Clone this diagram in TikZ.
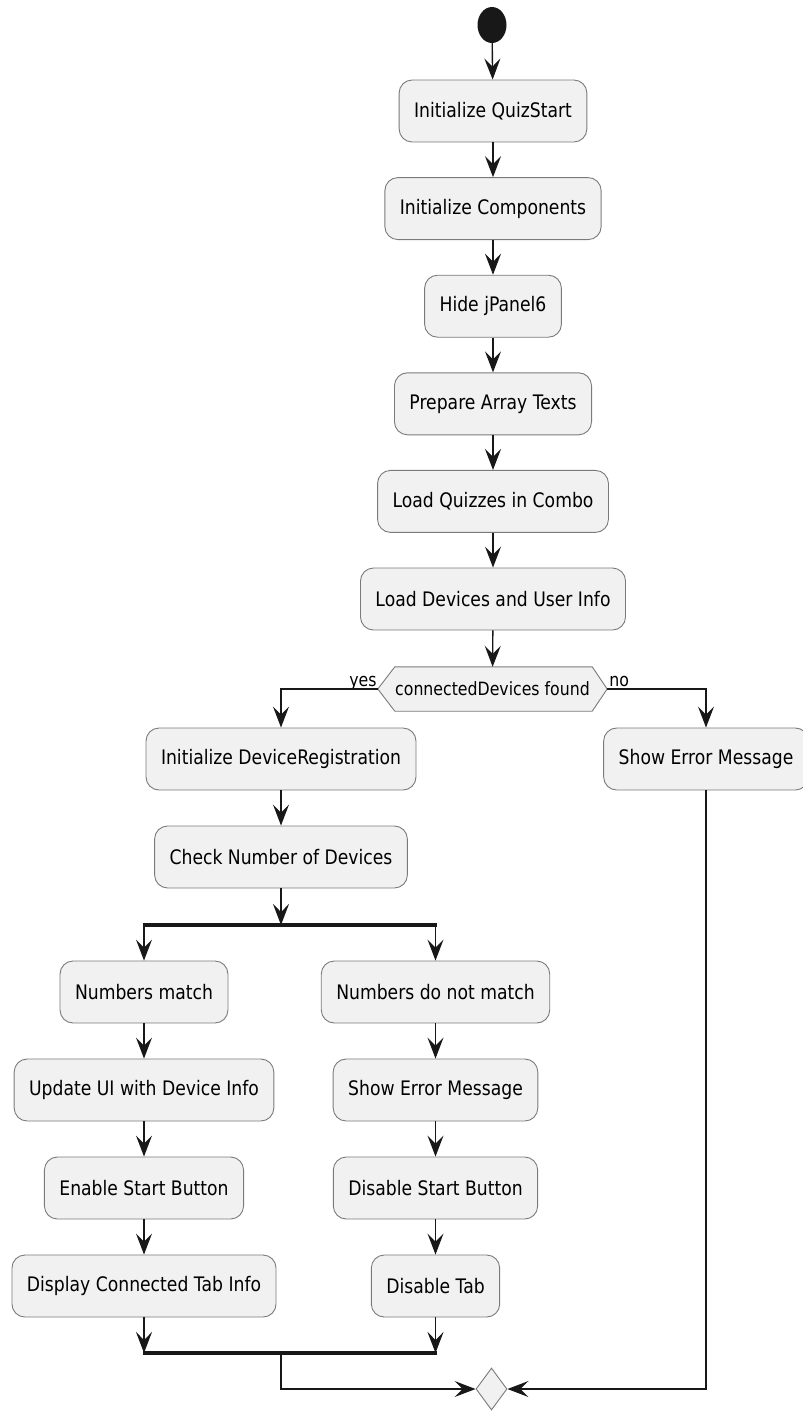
\documentclass[tikz,border=0pt]{standalone}
\usepackage{fontspec}
\usetikzlibrary{arrows.meta,shapes.geometric,calc}
\newfontfamily\actfont[FakeStretch=0.86]{DejaVu Sans}
\definecolor{boxfill}{HTML}{F1F1F1}
\definecolor{boxline}{HTML}{7A7A7A}
\definecolor{ink}{HTML}{181818}
\pgfdeclarelayer{background}
\pgfsetlayers{background,main}
\tikzset{
  act/.style={draw=boxline, fill=boxfill, rounded corners=13pt, line width=0.9pt,
    minimum height=62pt, inner xsep=15pt, inner ysep=0pt,
    font=\actfont\fontsize{20}{24}\selectfont, text=black},
  small/.style={font=\actfont\fontsize{18.3}{22}\selectfont, text=black, inner sep=0pt},
  flow/.style={draw=ink, line width=1.4pt, -{Stealth[length=21pt,width=16pt,inset=8pt]}},
  wire/.style={draw=ink, line width=1.4pt},
  bar/.style={draw=ink, line width=4pt},
}
\begin{document}
\begin{tikzpicture}[x=1pt,y=-1pt]
\useasboundingbox (0,0) rectangle (803,1411);

% start point
\node[ellipse, fill=ink, minimum width=29pt, minimum height=36pt, inner sep=0pt] (start) at (492,25) {};

% main column
\node[act] (a1) at (493,111)   {Initialize QuizStart};
\node[act] (a2) at (493,208.6) {Initialize Components};
\node[act] (a3) at (493,306.2) {Hide jPanel6};
\node[act] (a4) at (493,403.8) {Prepare Array Texts};
\node[act] (a5) at (493,501.4) {Load Quizzes in Combo};
\node[act] (a6) at (493,599)   {Load Devices and User Info};

% decision
\node[small, minimum width=229pt, minimum height=44pt] (dec) at (492.5,689) {connectedDevices found};
\begin{pgfonlayer}{background}
\draw[draw=boxline, fill=boxfill, line width=0.9pt]
  (dec.west) -- ([xshift=17pt]dec.north west) -- ([xshift=-15pt]dec.north east)
  -- (dec.east) -- ([xshift=-15pt]dec.south east) -- ([xshift=17pt]dec.south west) -- cycle;
\end{pgfonlayer}
\node[small, anchor=base east] (yes) at ([xshift=-1pt,yshift=3pt]dec.west) {yes};
\node[small, anchor=base west] (no) at ([xshift=2pt,yshift=3pt]dec.east) {no};

% branches
\node[act] (reg)  at (281,759) {Initialize DeviceRegistration};
\node[act] (err1) at (706,759) {Show Error Message};
\node[act] (chk)  at (281,857) {Check Number of Devices};

\node[act] (nm)   at (144,992)  {Numbers match};
\node[act] (upd)  at (144,1090) {Update UI with Device Info};
\node[act] (ena)  at (144,1188) {Enable Start Button};
\node[act] (dct)  at (144,1286) {Display Connected Tab Info};

\node[act] (nd)   at (435.5,992)  {Numbers do not match};
\node[act] (err2) at (435.5,1090) {Show Error Message};
\node[act] (dis)  at (435.5,1188) {Disable Start Button};
\node[act] (dtab) at (435.5,1286) {Disable Tab};

% fork and join bars
\coordinate (forkL) at (144,925);
\coordinate (forkC) at (281,925);
\coordinate (forkR) at (435.5,925);
\coordinate (joinL) at (144,1353);
\coordinate (joinC) at (281,1353);
\coordinate (joinR) at (435.5,1353);
\draw[bar] ([xshift=-1pt]forkL) -- ([xshift=1pt]forkR);
\draw[bar] ([xshift=-1pt]joinL) -- ([xshift=1pt]joinR);

% merge
\node[diamond, draw=boxline, fill=boxfill, line width=0.9pt, aspect=0.74,
  minimum width=31pt, minimum height=42pt, inner sep=0pt] (merge) at (491.5,1389) {};

% connectors
\draw[flow] (start) -- (a1);
\draw[flow] (a1) -- (a2);
\draw[flow] (a2) -- (a3);
\draw[flow] (a3) -- (a4);
\draw[flow] (a4) -- (a5);
\draw[flow] (a5) -- (a6);
\draw[flow] (a6) -- (dec);
\draw[flow] (dec.west) -| (reg);
\draw[flow] (dec.east) -| (err1);
\draw[flow] (reg) -- (chk);
\draw[flow] (chk) -- (forkC);
\draw[flow] (forkL) -- (nm);
\draw[flow] (forkR) -- (nd);
\draw[flow] (nm) -- (upd);
\draw[flow] (upd) -- (ena);
\draw[flow] (ena) -- (dct);
\draw[flow] (nd) -- (err2);
\draw[flow] (err2) -- (dis);
\draw[flow] (dis) -- (dtab);
\draw[flow] (dct) -- (joinL);
\draw[flow] (dtab) -- (joinR);
\draw[flow] (joinC) |- (merge.west);
\draw[flow] (err1) |- (merge.east);
\end{tikzpicture}
\end{document}
